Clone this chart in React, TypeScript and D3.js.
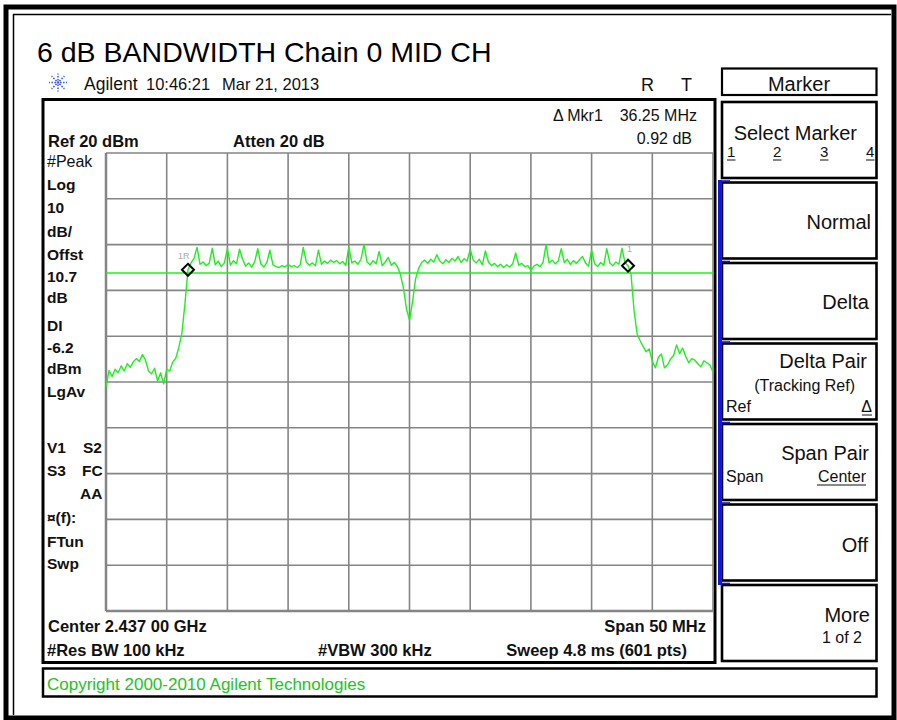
import React from 'react';
import * as d3 from 'd3';

// sweep settings
const centerMHz = 2437;
const spanMHz = 50;
const refLevel = 20;
const dbPerDiv = 10;
const displayLine = -6.2;

// trace levels (dBm), one value every 0.25 MHz from 2412 to 2462 MHz
const traceLevels = [
  -31.0, -27.5, -28.8, -27.2, -28.0, -26.5, -27.6, -26.0, -26.8, -25.6,
  -24.9, -25.5, -24.0, -25.2, -27.6, -28.2, -27.0, -29.8, -28.0, -30.4,
  -27.2, -27.6, -25.6, -24.8, -22.4, -19.4, -13.0, -5.5, -4.0, -3.0,
  -0.6, -4.3, -3.8, -4.6, -4.1, -0.8, -4.4, -3.6, -4.8, -4.0,
  -0.9, -4.5, -3.5, -4.2, -1.0, -3.2, -4.7, -4.0, -4.9, -3.7,
  -0.9, -4.2, -4.9, -3.9, -1.2, -4.4, -4.8, -5.0, -4.6, -4.9,
  -4.3, -4.8, -4.6, -5.0, -4.4, -0.6, -3.8, -4.5, -4.0, -4.6,
  -1.2, -4.3, -3.6, -4.1, -3.4, -3.9, -3.5, -4.2, -3.7, -4.5,
  -0.5, -4.0, -3.6, -4.3, -3.2, 0.0, -3.8, -4.4, -3.5, -4.2,
  -1.5, -4.6, -3.8, -2.8, -4.5, -3.9, -4.8, -6.5, -9.5, -14.0,
  -16.5, -12.5, -7.5, -5.2, -3.9, -3.4, -4.1, -3.2, -3.8, -2.2,
  -3.6, -4.2, -3.3, -3.9, -3.0, -3.6, -2.6, -3.9, -3.1, -3.6,
  -1.0, -3.4, -4.0, -3.2, -4.4, -1.4, -3.8, -4.6, -4.1, -4.8,
  -4.3, -5.0, -4.4, -4.9, -4.2, -1.8, -4.5, -4.1, -4.8, -4.6,
  -5.6, -4.7, -4.3, -4.8, -3.9, 0.0, -4.0, -3.4, -4.2, -3.6,
  -0.9, -3.9, -3.2, -4.3, -3.5, -4.1, -3.3, -2.6, -4.0, -4.7,
  -1.2, -4.2, -4.8, -3.9, -4.5, -0.9, -4.0, -4.6, -3.8, -4.3,
  -0.8, -3.9, -4.6, -6.5, -14.5, -19.5, -21.0, -22.3, -23.4, -22.8,
  -25.5, -26.9, -24.6, -23.9, -26.9, -26.3, -25.0, -24.2, -21.9, -23.8,
  -22.6, -24.4, -25.8, -24.9, -25.2, -26.0, -26.7, -25.4, -25.8, -26.3,
  -27.8,
];

// marker 1R and delta marker 1 (trace point indices)
const markerRefIndex = 27;
const markerDeltaIndex = 172;

const leftLabels = [
  { text: '#Peak', y: 167, bold: false },
  { text: 'Log', y: 190, bold: true },
  { text: '10', y: 213, bold: true },
  { text: 'dB/', y: 237, bold: true },
  { text: 'Offst', y: 260, bold: true },
  { text: '10.7', y: 282, bold: true },
  { text: 'dB', y: 303, bold: true },
  { text: 'DI', y: 331, bold: true },
  { text: '-6.2', y: 353, bold: true },
  { text: 'dBm', y: 374, bold: true },
  { text: 'LgAv', y: 397, bold: true },
  { text: '¤(f):', y: 523, bold: true },
  { text: 'FTun', y: 547, bold: true },
  { text: 'Swp', y: 569, bold: true },
];

const softkeyTop = [102, 182.5, 263, 343.5, 424, 504.5, 585];

const FONT = '"Liberation Sans", Arial, Helvetica, sans-serif';
const GREEN = '#1ef01e';
const BLUE = '#1414e6';

const App: React.FC = () => {
  const grid = { left: 106, top: 153, width: 607, height: 458 };

  const fStart = centerMHz - spanMHz / 2;
  const fStop = centerMHz + spanMHz / 2;
  const step = spanMHz / (traceLevels.length - 1);

  const x = d3.scaleLinear().domain([fStart, fStop]).range([grid.left, grid.left + grid.width]);
  const y = d3.scaleLinear()
    .domain([refLevel, refLevel - 10 * dbPerDiv])
    .range([grid.top, grid.top + grid.height]);

  const points = traceLevels.map((v, i) => ({ f: fStart + i * step, v }));
  const line = d3.line<{ f: number; v: number }>()
    .x(d => x(d.f))
    .y(d => y(d.v));

  const xDivs = d3.range(0, 11).map(i => fStart + (i * spanMHz) / 10);
  const yDivs = d3.range(0, 11).map(i => refLevel - i * dbPerDiv);

  const mRef = points[markerRefIndex];
  const mDel = points[markerDeltaIndex];

  const diamond = (cx: number, cy: number) =>
    `M${cx},${cy - 6} L${cx + 6},${cy} L${cx},${cy + 6} L${cx - 6},${cy} Z`;

  const boldTxt = { fontFamily: FONT, fontWeight: 700, fontSize: 16.5, fill: '#111' } as const;
  const regTxt = { fontFamily: FONT, fontSize: 16.5, fill: '#111' } as const;
  const keyTxt = { fontFamily: FONT, fontSize: 20, fill: '#111' } as const;
  const keySmall = { fontFamily: FONT, fontSize: 16, fill: '#111' } as const;

  // Agilent spark logo
  const sparkRays = d3.range(0, 8).map(i => (i * Math.PI) / 4);
  const numX = [727, 773, 820, 866];

  return (
    <svg width={897} height={720} style={{ position: 'absolute', left: 0, top: 0, background: '#fff' }}>
      {/* outer frame */}
      <rect x={0} y={0} width={897} height={720} fill="#fff" />
      <rect x={6} y={7} width={888} height={711} fill="none" stroke="#000" strokeWidth={5} />
      <line x1={13.5} y1={14} x2={13.5} y2={715} stroke="#000" strokeWidth={1.5} />
      <line x1={13} y1={14.5} x2={891} y2={14.5} stroke="#000" strokeWidth={1.5} />

      {/* title */}
      <text x={37} y={62} style={{ fontFamily: FONT, fontSize: 28.5, fill: '#000' }}>
        6 dB BANDWIDTH Chain 0 MID CH
      </text>

      {/* header line */}
      <g>
        {sparkRays.map((a, i) => (
          <line key={i}
            x1={58 + Math.cos(a) * 2} y1={82.5 + Math.sin(a) * 2}
            x2={58 + Math.cos(a) * 9} y2={82.5 + Math.sin(a) * 9}
            stroke="#3a5cf0" strokeWidth={1.6} strokeDasharray="1.6,1.4" />
        ))}
        <circle cx={58} cy={82.5} r={1.3} fill="#3a5cf0" />
      </g>
      <text x={84} y={90} style={{ fontFamily: FONT, fontSize: 17.5, fill: '#111' }}>Agilent</text>
      <text x={146} y={90} style={{ fontFamily: FONT, fontSize: 16.5, fill: '#111' }}>10:46:21</text>
      <text x={222} y={90} style={{ fontFamily: FONT, fontSize: 16.5, fill: '#111' }}>Mar 21, 2013</text>
      <text x={641} y={91} style={{ fontFamily: FONT, fontSize: 18, fill: '#111' }}>R</text>
      <text x={681} y={91} style={{ fontFamily: FONT, fontSize: 18, fill: '#111' }}>T</text>

      {/* plot box */}
      <rect x={43} y={99.5} width={672} height={563} fill="#fff" stroke="#000" strokeWidth={3} />

      <text x={48} y={147} style={boldTxt}>Ref 20 dBm</text>
      <text x={233} y={147} style={boldTxt}>Atten 20 dB</text>
      <text x={553} y={121} style={{ ...regTxt, fontSize: 16 }}>Δ Mkr1</text>
      <text x={697} y={121} textAnchor="end" style={{ ...regTxt, fontSize: 16 }}>36.25 MHz</text>
      <text x={692} y={144} textAnchor="end" style={{ ...regTxt, fontSize: 16 }}>0.92 dB</text>

      {leftLabels.map(l => (
        <text key={l.text} x={47} y={l.y}
          style={l.bold ? { ...boldTxt, fontSize: 15.5 } : { ...regTxt, fontSize: 16 }}>
          {l.text}
        </text>
      ))}
      <text x={47} y={453} style={{ ...boldTxt, fontSize: 15.5 }}>V1</text>
      <text x={83} y={453} style={{ ...boldTxt, fontSize: 15.5 }}>S2</text>
      <text x={47} y={476} style={{ ...boldTxt, fontSize: 15.5 }}>S3</text>
      <text x={82} y={476} style={{ ...boldTxt, fontSize: 15.5 }}>FC</text>
      <text x={80} y={499} style={{ ...boldTxt, fontSize: 15.5 }}>AA</text>

      {/* graticule */}
      <g>
        {xDivs.map((f, i) => (
          <line key={'v' + i} x1={x(f)} x2={x(f)} y1={grid.top} y2={grid.top + grid.height}
            stroke="#858585" strokeWidth={i === 0 ? 2.5 : 1.6} />
        ))}
        {yDivs.map((v, i) => (
          <line key={'h' + i} x1={grid.left} x2={grid.left + grid.width} y1={y(v)} y2={y(v)}
            stroke="#858585" strokeWidth={i === 10 ? 2.5 : 1.6} />
        ))}
      </g>

      {/* display line */}
      <line x1={grid.left} x2={grid.left + grid.width} y1={y(displayLine)} y2={y(displayLine)}
        stroke={GREEN} strokeWidth={1.5} />

      {/* trace */}
      <path d={line(points) ?? ''} fill="none" stroke={GREEN} strokeWidth={1.4} strokeLinejoin="round" />

      {/* markers */}
      <path d={diamond(x(mRef.f), y(mRef.v))} fill="none" stroke="#000" strokeWidth={2} />
      <path d={diamond(x(mDel.f), y(mDel.v))} fill="none" stroke="#000" strokeWidth={2} />
      <text x={x(mRef.f) - 10} y={y(mRef.v) - 11} style={{ fontFamily: FONT, fontSize: 9, fill: '#aaa' }}>1R</text>
      <text x={x(mDel.f) - 1} y={y(mDel.v) - 14} style={{ fontFamily: FONT, fontSize: 9, fill: '#aaa' }}>1</text>

      {/* bottom annotations */}
      <text x={48} y={632} style={boldTxt}>Center 2.437 00 GHz</text>
      <text x={706} y={632} textAnchor="end" style={boldTxt}>Span 50 MHz</text>
      <text x={47} y={656} style={boldTxt}>#Res BW 100 kHz</text>
      <text x={318} y={656} style={boldTxt}>#VBW 300 kHz</text>
      <text x={687} y={656} textAnchor="end" style={boldTxt}>Sweep 4.8 ms (601 pts)</text>

      {/* copyright bar */}
      <rect x={43} y={668.5} width={833.5} height={28} fill="#fff" stroke="#000" strokeWidth={2.5} />
      <text x={47} y={690} style={{ fontFamily: FONT, fontSize: 17, fill: '#22c322' }}>
        Copyright 2000-2010 Agilent Technologies
      </text>

      {/* softkey menu */}
      <rect x={722} y={68.5} width={154.5} height={26.5} fill="#fff" stroke="#000" strokeWidth={2.2} />
      <text x={799} y={91} textAnchor="middle" style={keyTxt}>Marker</text>

      {softkeyTop.map((t, i) => (
        <rect key={'k' + i} x={722} y={t} width={154.5} height={76} fill="#fff" stroke="#000" strokeWidth={2.6} />
      ))}
      {/* blue active bar */}
      <rect x={718} y={180} width={4} height={405} fill={BLUE} />
      {softkeyTop.slice(1).map((t, i) => (
        <line key={'b' + i} x1={718} x2={730} y1={t - 1.5} y2={t - 1.5} stroke={BLUE} strokeWidth={1.6} />
      ))}

      <text x={857} y={140} textAnchor="end" style={keyTxt}>Select Marker</text>
      {['1', '2', '3', '4'].map((n, i) => (
        <g key={'n' + n}>
          <text x={numX[i]} y={157} style={{ ...keySmall, fontSize: 15 }}>{n}</text>
          <line x1={numX[i]} x2={numX[i] + 8.5} y1={160} y2={160} stroke="#111" strokeWidth={1} />
        </g>
      ))}
      <text x={871} y={229} textAnchor="end" style={keyTxt}>Normal</text>
      <text x={869} y={309} textAnchor="end" style={keyTxt}>Delta</text>
      <text x={867} y={368} textAnchor="end" style={keyTxt}>Delta Pair</text>
      <text x={855} y={391} textAnchor="end" style={keySmall}>(Tracking Ref)</text>
      <text x={726} y={412} style={keySmall}>Ref</text>
      <text x={872} y={412} textAnchor="end" style={keySmall}>Δ</text>
      <line x1={862} x2={872} y1={415} y2={415} stroke="#111" strokeWidth={1} />
      <text x={869} y={460} textAnchor="end" style={keyTxt}>Span Pair</text>
      <text x={726} y={482} style={keySmall}>Span</text>
      <text x={866} y={482} textAnchor="end" style={keySmall}>Center</text>
      <line x1={817} x2={866} y1={485} y2={485} stroke="#111" strokeWidth={1} />
      <text x={868} y={552} textAnchor="end" style={keyTxt}>Off</text>
      <text x={870} y={622} textAnchor="end" style={keyTxt}>More</text>
      <text x={862} y={643} textAnchor="end" style={keySmall}>1 of 2</text>
    </svg>
  );
};

export default App;
